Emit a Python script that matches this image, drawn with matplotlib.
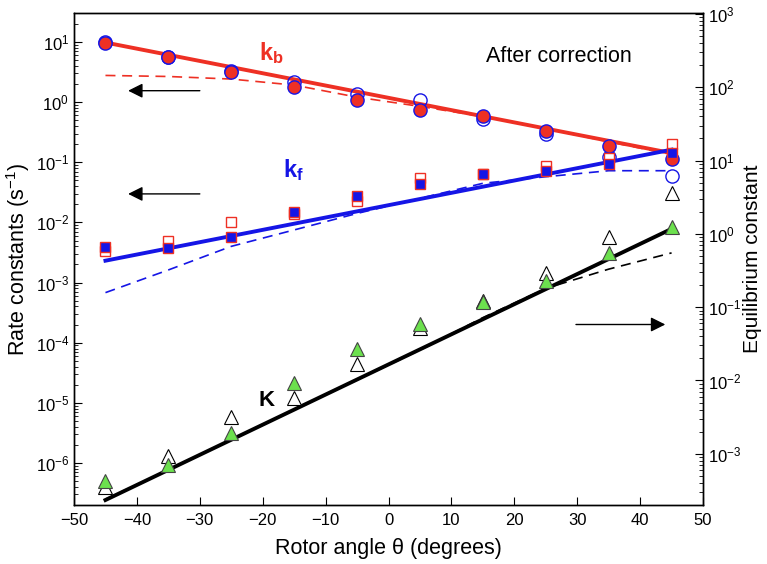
import matplotlib.pyplot as plt
import numpy as np

plt.rcParams['font.family'] = ['Liberation Sans', 'DejaVu Sans']
plt.rcParams['mathtext.fontset'] = 'custom'
plt.rcParams['mathtext.rm'] = 'Liberation Sans'
plt.rcParams['mathtext.it'] = 'Liberation Sans:italic'
plt.rcParams['mathtext.bf'] = 'Liberation Sans:bold'

# rotor angle (degrees)
angle = [-45, -35, -25, -15, -5, 5, 15, 25, 35, 45]

# k_b (s^-1): after correction (filled) and before (open)
kb_corr = [9.8, 5.6, 3.2, 1.78, 1.1, 0.75, 0.59, 0.325, 0.183, 0.114]
kb_raw = [9.9, 5.6, 3.3, 2.2, 1.38, 1.07, 0.52, 0.30, 0.124, 0.059]

# k_f (s^-1)
kf_corr = [0.00395, 0.0037, 0.0057, 0.0151, 0.0279, 0.043, 0.063, 0.072, 0.094, 0.145]
kf_raw = [0.0034, 0.005, 0.0102, 0.0138, 0.023, 0.054, 0.063, 0.088, 0.117, 0.2]

# equilibrium constant K (right axis)
K_corr = [4.3e-4, 7.0e-4, 1.9e-3, 9.1e-3, 0.027, 0.059, 0.117, 0.23, 0.55, 1.24]
K_raw = [3.5e-4, 9.3e-4, 3.2e-3, 5.8e-3, 0.017, 0.052, 0.122, 0.29, 0.90, 3.6]

# exponential fits (solid)
fit_angle = [-45, 45]
kb_fit = [9.8, 0.142]
kf_fit = [0.00231, 0.162]
K_fit = [2.34e-4, 1.17]

# model curves (dashed)
kb_model = [2.78, 2.67, 2.42, 1.92, 1.21, 0.85, 0.575, 0.363, 0.219, 0.135]
kf_model = [6.8e-4, 1.62e-3, 4.0e-3, 7.5e-3, 0.0141, 0.0251, 0.0447, 0.0575, 0.0724, 0.0724]
K_model = [2.4e-4, 6.0e-4, 1.55e-3, 4.0e-3, 0.0102, 0.026, 0.072, 0.18, 0.33, 0.55]

red = '#EE3024'
blue = '#1515E6'
green = '#6CE04E'

fig, ax = plt.subplots(figsize=(7.67, 5.64), dpi=100)
plt.subplots_adjust(left=0.0965, right=0.9166, bottom=0.1046, top=0.9764)
ax2 = ax.twinx()

ax.set_yscale('log')
ax2.set_yscale('log')
ax.set_xlim(-50, 50)
ax.set_ylim(2e-7, 30)
ax2.set_ylim(2e-4, 1.02e3)

# lines
ax.plot(angle, kb_model, '--', color=red, lw=1.2, dashes=(6, 4))
ax.plot(angle, kf_model, '--', color=blue, lw=1.2, dashes=(6, 4))
ax.plot(fit_angle, kb_fit, '-', color=red, lw=2.8)
ax.plot(fit_angle, kf_fit, '-', color=blue, lw=2.8)

# markers
ax.plot(angle, kb_raw, 'o', ms=9.5, mfc='none', mec=blue, mew=1.0)
ax.plot(angle, kb_corr, 'o', ms=9.5, mfc=red, mec=blue, mew=1.0)
ax.plot(angle, kf_raw, 's', ms=6.5, mfc='none', mec=red, mew=1.0)
ax.plot(angle, kf_corr, 's', ms=6.5, mfc=blue, mec=red, mew=1.0)

ax2.plot(angle, K_model, '--', color='black', lw=1.2, dashes=(6, 4))
ax2.plot(fit_angle, K_fit, '-', color='black', lw=2.8)
ax2.plot(angle, K_raw, '^', ms=10.5, mfc='white', mec='black', mew=0.8)
ax2.plot(angle, K_corr, '^', ms=10.5, mfc=green, mec='#444444', mew=0.8)

# arrows
arrow = dict(arrowstyle='-|>', color='black', lw=1.0, mutation_scale=22,
             shrinkA=0, shrinkB=0)
ax.annotate('', xy=(-41.4, 1.55), xytext=(-30, 1.55), arrowprops=arrow)
ax.annotate('', xy=(-41.4, 0.0298), xytext=(-30, 0.0298), arrowprops=arrow)
ax2.annotate('', xy=(44, 0.058), xytext=(29.8, 0.058), arrowprops=arrow)

# labels inside
ax.text(-20.6, 5.0, r'$\mathbf{k_b}$', color=red, fontsize=17)
ax.text(-16.7, 0.056, r'$\mathbf{k_f}$', color=blue, fontsize=17)
ax.text(-20.6, 8.9e-6, 'K', color='black', fontsize=16, fontweight='bold')
ax.text(0.655, 0.913, 'After correction', transform=ax.transAxes,
        fontsize=15.5, ha='left', va='center')

# axes styling
ax.set_xticks(np.arange(-50, 51, 10))
ax.set_xticklabels(['\u221250', '\u221240', '\u221230', '\u221220', '\u221210',
                    '0', '10', '20', '30', '40', '50'])
ax.tick_params(axis='x', which='both', direction='in', top=False, labelsize=12,
               length=6, pad=6)
ax.tick_params(axis='y', which='major', direction='in', length=6, labelsize=12)
ax.tick_params(axis='y', which='minor', direction='in', length=3)
ax2.tick_params(axis='y', which='major', direction='in', length=6, labelsize=12)
ax2.tick_params(axis='y', which='minor', direction='in', length=3)

for a in (ax, ax2):
    for s in a.spines.values():
        s.set_linewidth(1.0)

ax.set_xlabel('Rotor angle \u03b8 (degrees)', fontsize=15.5)
ax.set_ylabel(r'Rate constants (s$^{-1}$)', fontsize=15.5)
ax2.set_ylabel('Equilibrium constant', fontsize=15, rotation=90)
ax.xaxis.set_label_coords(0.5, -0.067)
ax.yaxis.set_label_coords(-0.067, 0.5)
ax2.yaxis.set_label_coords(1.064, 0.5)

plt.savefig('out.png', dpi=100)
